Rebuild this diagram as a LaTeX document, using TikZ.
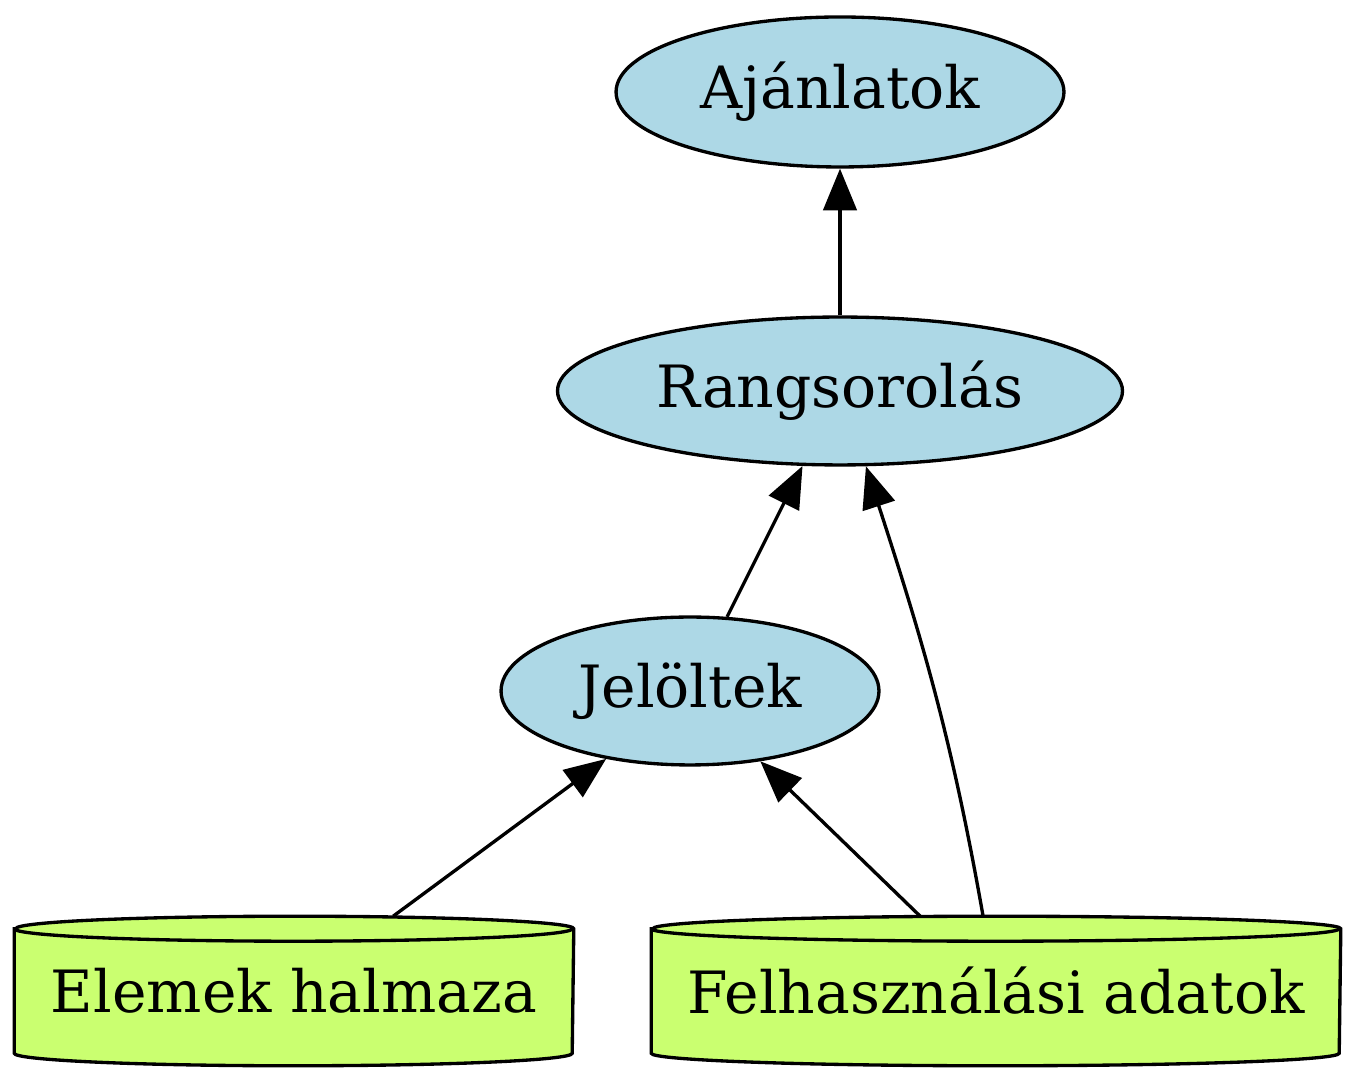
\documentclass[tikz,border=0pt]{standalone}
\usepackage{fontspec}
\setmainfont{DejaVu Serif}
\usepackage{tikz}
\usetikzlibrary{shapes.geometric,arrows.meta}

\definecolor{stepblue}{HTML}{ADD8E6}
\definecolor{datagreen}{HTML}{CAFF70}

% cylinder round a rectangle node: #1 name, #2 x radius
\newcommand\dbcyl[2]{%
  \draw[cylline] ([yshift=-3pt]#1.north west) -- ([yshift=3pt]#1.south west)
    arc[start angle=180, end angle=360, x radius=#2, y radius=3pt]
    -- ([yshift=-3pt]#1.north east)
    arc[start angle=0, end angle=180, x radius=#2, y radius=3pt] -- cycle;
  \draw[line width=0.8pt] ([yshift=-3pt]#1.north west)
    arc[start angle=180, end angle=360, x radius=#2, y radius=3pt];
}

\begin{document}
\begin{tikzpicture}[x=0.24pt, y=-0.24pt,
    font=\fontsize{14}{16}\selectfont,
    stepnode/.style={ellipse, draw, line width=0.8pt, fill=stepblue, inner sep=0pt},
    datanode/.style={rectangle, inner sep=0pt, minimum height=35.5pt},
    cylline/.style={line width=0.8pt, fill=datagreen},
    edge/.style={line width=0.8pt, -{Triangle[length=10pt, width=8pt]}}]
		\useasboundingbox (0,0) rectangle (1356,1083);

		\node [stepnode, minimum width=107.5pt, minimum height=36pt] (ajan) at (840,92) {Ajánlatok};
		\node [stepnode, minimum width=135.6pt, minimum height=35.5pt] (rang) at (840,391) {Rangsorolás};
		\node [stepnode, minimum width=90.7pt, minimum height=35.5pt] (jel) at (690,691) {Jelöltek};

		\node [datanode, minimum width=133.9pt] (elemek) at (294,991) {};
		\dbcyl{elemek}{66.96pt}
		\node at (elemek) {Elemek halmaza};

		\node [datanode, minimum width=165.1pt] (felh) at (996,991) {};
		\dbcyl{felh}{82.56pt}
		\node at (felh) {Felhasználási adatok};

		\draw [edge] (rang) -- (ajan);
		\draw [edge] (jel) -- (rang);
		\draw [edge] ([xshift=23.8pt]elemek.north) -- (jel.219);
		\draw [edge] ([xshift=-18.2pt]felh.north) -- (jel.315);
		\draw [edge] ([xshift=-3.1pt]felh.north) to [out=100, in=288] (rang.289);
	\end{tikzpicture}
\end{document}
